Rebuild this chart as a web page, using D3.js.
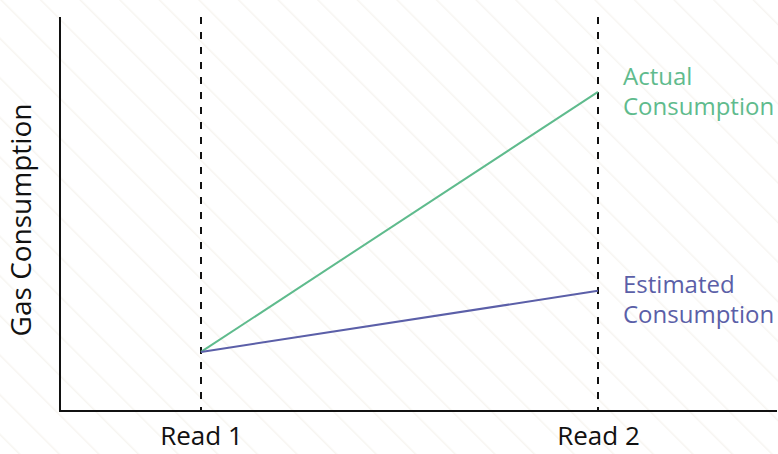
<!DOCTYPE html>
<html>
<head>
<meta charset="utf-8">
<script src="https://cdn.jsdelivr.net/npm/d3@7"></script>
<style>
  html, body { margin: 0; padding: 0; background: #fff; }
  svg { display: block; }
</style>
</head>
<body>
<div id="chart"></div>
<script>
/* ── Data ───────────────────────────────────────────────────────── */
const reads     = ['Read 1', 'Read 2'];
const actual    = [1.5, 8.1];
const estimated = [1.5, 3.05];
const seriesNames = [['Actual', 'Consumption'], ['Estimated', 'Consumption']];
const seriesColors = ['#5fbb8d', '#5b5fa8'];
const labelOffsets = [-7, 2];   // label baseline relative to the line end

const W = 778, H = 454;
const FONT = '"Open Sans", Lato, sans-serif';

const svg = d3.select('#chart').append('svg')
  .attr('width', W).attr('height', H)
  .attr('viewBox', `0 0 ${W} ${H}`);

/* ── Faint diagonal background stripes ──────────────────────────── */
const defs = svg.append('defs');
const pat = defs.append('pattern')
  .attr('id', 'stripes')
  .attr('patternUnits', 'userSpaceOnUse')
  .attr('width', 28).attr('height', 28)
  .attr('patternTransform', 'rotate(-45)');
pat.append('line')
  .attr('x1', 0).attr('y1', 0).attr('x2', 0).attr('y2', 28)
  .attr('stroke', '#f7f5f1').attr('stroke-width', 3);
svg.append('rect').attr('width', W).attr('height', H).attr('fill', 'url(#stripes)');

/* ── Scales ─────────────────────────────────────────────────────── */
const mLeft = 60, mTop = 17, mBottom = 411, mRight = 777;

const x = d3.scalePoint().domain(reads).range([201, 598]);
const y = d3.scaleLinear().domain([0, 10]).range([mBottom, mTop]);

/* ── Dashed read markers ───────────────────────────────────────── */
svg.selectAll('.read-line')
  .data(reads)
  .join('line')
  .attr('class', 'read-line')
  .attr('x1', d => x(d)).attr('x2', d => x(d))
  .attr('y1', y(10)).attr('y2', y(0))
  .attr('stroke', '#111')
  .attr('stroke-width', 2)
  .attr('stroke-dasharray', '7,8');

/* ── Axes ───────────────────────────────────────────────────────── */
svg.append('line')
  .attr('x1', mLeft).attr('x2', mLeft)
  .attr('y1', y(10)).attr('y2', y(0) + 1)
  .attr('stroke', '#111').attr('stroke-width', 2);

svg.append('g')
  .attr('transform', `translate(0,${mBottom})`)
  .call(d3.axisBottom(x).tickSize(0).tickPadding(16))
  .call(sel => sel.select('.domain').remove())
  .call(sel => sel.selectAll('text')
    .attr('fill', '#111')
    .attr('font-family', FONT)
    .attr('font-size', '26px'));

svg.append('line')
  .attr('x1', mLeft - 1).attr('x2', mRight)
  .attr('y1', mBottom).attr('y2', mBottom)
  .attr('stroke', '#111').attr('stroke-width', 2);

svg.append('text')
  .attr('transform', `translate(31,220) rotate(-90)`)
  .attr('text-anchor', 'middle')
  .attr('font-family', FONT)
  .attr('font-size', '28px')
  .attr('fill', '#111')
  .text('Gas Consumption');

/* ── Lines ──────────────────────────────────────────────────────── */
const line = d3.line().x((d, i) => x(reads[i])).y(d => y(d));

[actual, estimated].forEach((vals, k) => {
  svg.append('path').datum(vals)
    .attr('d', line)
    .attr('fill', 'none')
    .attr('stroke', seriesColors[k])
    .attr('stroke-width', 2);

  const last = vals[vals.length - 1];
  const t = svg.append('text')
    .attr('font-family', FONT)
    .attr('font-size', '24px')
    .attr('fill', seriesColors[k]);
  seriesNames[k].forEach((s, j) => {
    t.append('tspan')
      .attr('x', x(reads[reads.length - 1]) + 25)
      .attr('y', y(last) + labelOffsets[k] + j * 30)
      .text(s);
  });
});
</script>
</body>
</html>
